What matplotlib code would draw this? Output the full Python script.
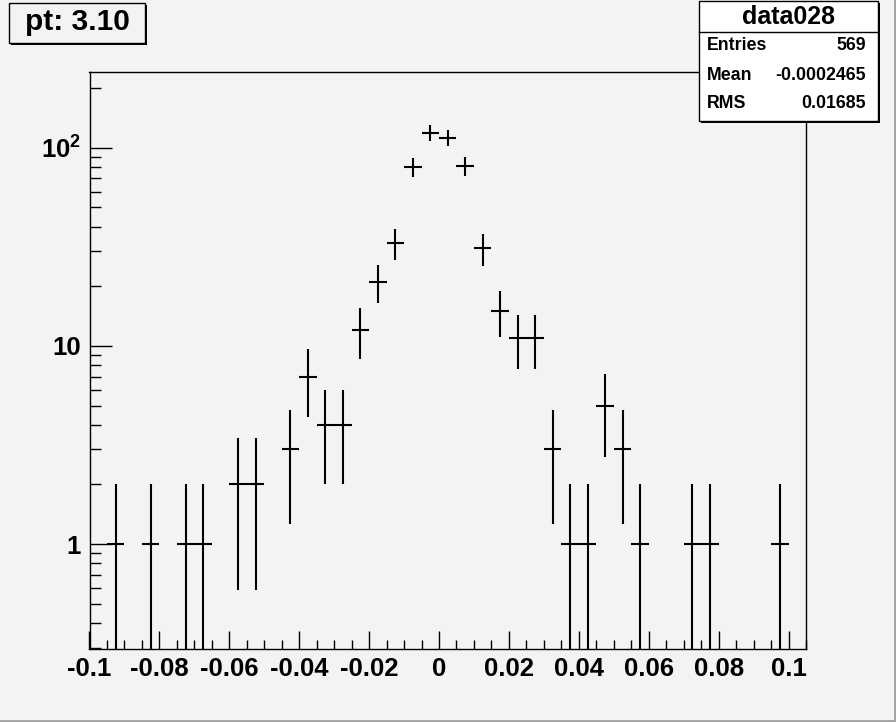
import numpy as np
import matplotlib
matplotlib.use("Agg")
import matplotlib.pyplot as plt
from matplotlib.patches import Rectangle
from matplotlib.ticker import MultipleLocator, LogLocator, FixedLocator, FixedFormatter

plt.rcParams['font.family'] = ['Liberation Sans', 'DejaVu Sans']
plt.rcParams['mathtext.fontset'] = 'custom'
plt.rcParams['mathtext.rm'] = 'Liberation Sans:bold'
plt.rcParams['mathtext.bf'] = 'Liberation Sans:bold'

# histogram data (bin centres, counts), bin width 0.005
bin_width = 0.005
centers = [-0.0925, -0.0825, -0.0725, -0.0675, -0.0575, -0.0525, -0.0425, -0.0375,
           -0.0325, -0.0275, -0.0225, -0.0175, -0.0125, -0.0075, -0.0025, 0.0025,
           0.0075, 0.0125, 0.0175, 0.0225, 0.0275, 0.0325, 0.0375, 0.0425,
           0.0475, 0.0525, 0.0575, 0.0725, 0.0775, 0.0975]
counts = [1, 1, 1, 1, 2, 2, 3, 7,
          4, 4, 12, 21, 33, 80, 119, 112,
          81, 31, 15, 11, 11, 3, 1, 1,
          5, 3, 1, 1, 1, 1]

title_text = "pt: 3.10"
hist_name = "data028"
stat_names = ["Entries", "Mean", "RMS"]
stat_values = ["569", "-0.0002465", "0.01685"]

x = np.array(centers)
y = np.array(counts, dtype=float)
err = np.sqrt(y)
lo = np.minimum(err, y - 1e-4)

W, H = 896, 722
bg = '#f3f3f3'
fig = plt.figure(figsize=(W / 100, H / 100), dpi=100, facecolor=bg)
ax = fig.add_axes([89.5 / W, 1 - 648.5 / H, (806 - 89.5) / W, (648.5 - 72) / H])
ax.set_facecolor(bg)

ax.errorbar(x, y, xerr=bin_width / 2, yerr=[lo, err], fmt='none',
            ecolor='black', elinewidth=1.5, capsize=0)

ax.set_yscale('log')
ax.set_xlim(-0.1, 0.105)
ax.set_ylim(0.297, 241)

ax.xaxis.set_major_locator(MultipleLocator(0.02))
ax.xaxis.set_minor_locator(MultipleLocator(0.005))
ax.xaxis.set_major_formatter(matplotlib.ticker.FuncFormatter(
    lambda v, p: ('%g' % round(v, 4)) if abs(v) > 1e-9 else '0'))

ax.yaxis.set_major_locator(FixedLocator([1, 10, 100]))
ax.yaxis.set_major_formatter(FixedFormatter(['1', '10', r'$\mathbf{10^{2}}$']))
ax.yaxis.set_minor_locator(LogLocator(base=10, subs=np.arange(2, 10)))
ax.yaxis.set_minor_formatter(matplotlib.ticker.NullFormatter())

ax.tick_params(axis='x', which='major', direction='in', length=13, width=1,
               labelsize=18.5, pad=6)
ax.tick_params(axis='x', which='minor', direction='in', length=6.5, width=1)
ax.tick_params(axis='y', which='major', direction='in', length=16, width=1,
               labelsize=18.5, pad=6)
ax.tick_params(axis='y', which='minor', direction='in', length=8, width=1)
for lab in ax.get_xticklabels() + ax.get_yticklabels():
    lab.set_fontweight('bold')
for sp in ax.spines.values():
    sp.set_linewidth(1)


def px_rect(x0, y0, x1, y1, **kw):
    r = Rectangle((x0 / W, 1 - y1 / H), (x1 - x0) / W, (y1 - y0) / H,
                  transform=fig.transFigure, **kw)
    fig.add_artist(r)


# title box with shadow
px_rect(11, 5, 147, 45, facecolor='black', edgecolor='none')
px_rect(9, 3, 145, 43, facecolor=bg, edgecolor='black', linewidth=1)
fig.text(77 / W, 1 - 22 / H, title_text, ha='center', va='center',
         fontsize=21.5, fontweight='bold')

# stat box with shadow
px_rect(701, 3, 880, 123, facecolor='black', edgecolor='none')
px_rect(699, 1, 878, 121, facecolor='white', edgecolor='black', linewidth=1)
fig.add_artist(plt.Line2D([699 / W, 878 / W], [1 - 32 / H, 1 - 32 / H],
                          transform=fig.transFigure, color='black', linewidth=1))
fig.text(788 / W, 1 - 17 / H, hist_name, ha='center', va='center',
         fontsize=18, fontweight='bold')
for i, (n, v) in enumerate(zip(stat_names, stat_values)):
    yy = 1 - (46 + 29 * i) / H
    fig.text(707 / W, yy, n, ha='left', va='center', fontsize=12.8, fontweight='bold')
    fig.text(866 / W, yy, v, ha='right', va='center', fontsize=12.8, fontweight='bold')

# canvas border
fig.add_artist(plt.Line2D([0, 1], [1 / H, 1 / H], transform=fig.transFigure,
                          color='#a0a0a0', linewidth=2))
fig.add_artist(plt.Line2D([1 - 1 / W, 1 - 1 / W], [0, 1], transform=fig.transFigure,
                          color='#a0a0a0', linewidth=2))

fig.savefig('out.png', dpi=100, facecolor=bg)
